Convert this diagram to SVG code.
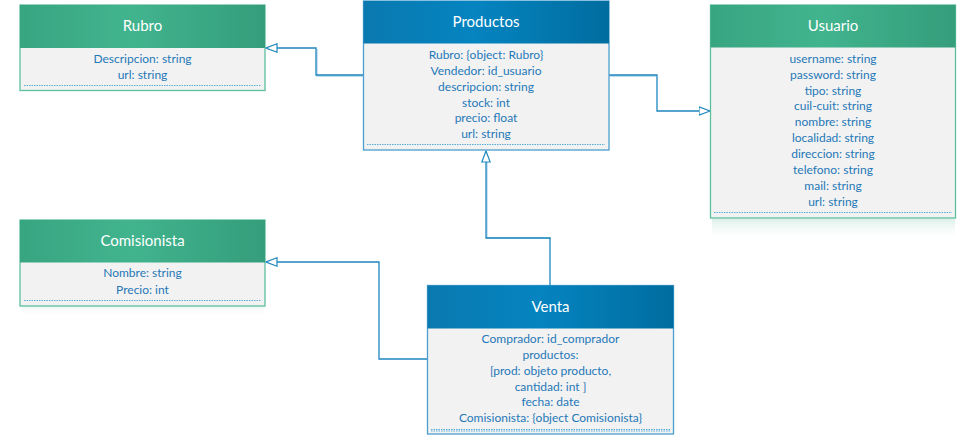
<svg xmlns="http://www.w3.org/2000/svg" width="976" height="436" viewBox="0 0 976 436">
<defs>
<linearGradient id="gG" x1="0" y1="0" x2="1" y2="0">
<stop offset="0" stop-color="#38a581"/><stop offset="0.45" stop-color="#41b48e"/><stop offset="1" stop-color="#359d7b"/>
</linearGradient>
<linearGradient id="gB" x1="0" y1="0" x2="1" y2="0">
<stop offset="0" stop-color="#0a79b0"/><stop offset="0.45" stop-color="#0584c0"/><stop offset="1" stop-color="#006d9f"/>
</linearGradient>
<linearGradient id="refl" x1="0" y1="0" x2="0" y2="1">
<stop offset="0" stop-color="#d8eee6" stop-opacity="0.9"/><stop offset="1" stop-color="#ffffff" stop-opacity="0"/>
</linearGradient>
<marker id="tri" viewBox="0 0 12 10" refX="12" refY="5" markerWidth="12" markerHeight="10" markerUnits="userSpaceOnUse" orient="auto">
<path d="M0.5,0.8 L11.5,5 L0.5,9.2 Z" fill="#ffffff" stroke="#1f86bf" stroke-width="1.2"/>
</marker>
</defs>
<style>
.body{fill:#f2f2f2}
.gb{stroke:#5dbf9d;stroke-width:1.3}
.bb{stroke:#4a9fcf;stroke-width:1.3}
.title{font-family:Lato,"Open Sans",sans-serif;font-size:15px;fill:#ffffff;text-anchor:middle}
.attr{font-family:Lato,"Open Sans",sans-serif;font-size:12px;fill:#1f78b8;text-anchor:middle}
.dot{stroke:#5aaedc;stroke-width:1;stroke-dasharray:1.5 1}
.conn{fill:none;stroke:#1f86bf;stroke-width:1.3}
.connsh{fill:none;stroke:#a9d3ea;stroke-width:1.3}
</style>
<rect x="712" y="219" width="243" height="22" fill="url(#refl)"/>
<rect x="22" y="306" width="242" height="12" fill="url(#refl)" opacity="0.5"/>
<g id="connectors">
<polyline class="connsh" points="364,76 317,76 317,49"/>
<polyline class="conn" points="363,75 316,75 316,48 265.5,48" marker-end="url(#tri)"/>
<polyline class="connsh" points="610,76 656,76"/>
<polyline class="conn" points="609,75 657,75 657,111 710.5,111" marker-end="url(#tri)"/>
<polyline class="connsh" points="551,238 487,238 487,162"/>
<polyline class="conn" points="550,285 550,238 486,238 486,150.5" marker-end="url(#tri)"/>
<polyline class="conn" points="427,359 379,359 379,262 265.5,262" marker-end="url(#tri)"/>
</g>
<g id="Rubro">
<rect class="body gb" x="20" y="5" width="245" height="85.5"/>
<rect x="20" y="5" width="245" height="43" fill="url(#gG)"/>
<text class="title" x="142.5" y="31">Rubro</text>
<text class="attr" x="142.5" y="63">Descripcion: string</text>
<text class="attr" x="142.5" y="79">url: string</text>
<line class="dot" x1="24" y1="85.5" x2="261" y2="85.5"/>
</g>
<g id="Productos">
<rect class="body bb" x="363.5" y="1" width="245.5" height="149"/>
<rect x="363.5" y="1" width="245.5" height="42.5" fill="url(#gB)"/>
<text class="title" x="486" y="27">Productos</text>
<text class="attr" x="486" y="59">Rubro: {object: Rubro}</text>
<text class="attr" x="486" y="75">Vendedor: id_usuario</text>
<text class="attr" x="486" y="91">descripcion: string</text>
<text class="attr" x="486" y="107">stock: int</text>
<text class="attr" x="486" y="122">precio: float</text>
<text class="attr" x="486" y="138">url: string</text>
<line class="dot" x1="367" y1="144.5" x2="605" y2="144.5"/>
</g>
<g id="Usuario">
<rect class="body gb" x="710.5" y="5" width="245" height="213"/>
<rect x="710.5" y="5" width="245" height="42.5" fill="url(#gG)"/>
<text class="title" x="833" y="31">Usuario</text>
<text class="attr" x="833" y="63">username: string</text>
<text class="attr" x="833" y="79">password: string</text>
<text class="attr" x="833" y="95">tipo: string</text>
<text class="attr" x="833" y="110">cuil-cuit: string</text>
<text class="attr" x="833" y="126">nombre: string</text>
<text class="attr" x="833" y="142">localidad: string</text>
<text class="attr" x="833" y="158">direccion: string</text>
<text class="attr" x="833" y="174">telefono: string</text>
<text class="attr" x="833" y="190">mail: string</text>
<text class="attr" x="833" y="206">url: string</text>
<line class="dot" x1="714" y1="212.5" x2="952" y2="212.5"/>
</g>
<g id="Comisionista">
<rect class="body gb" x="20" y="220" width="245" height="86"/>
<rect x="20" y="220" width="245" height="42.5" fill="url(#gG)"/>
<text class="title" x="142.5" y="246">Comisionista</text>
<text class="attr" x="142.5" y="277">Nombre: string</text>
<text class="attr" x="142.5" y="294">Precio: int</text>
<line class="dot" x1="24" y1="300.5" x2="261" y2="300.5"/>
</g>
<g id="Venta">
<rect class="body bb" x="427.5" y="285.5" width="246" height="148.5"/>
<rect x="427.5" y="285.5" width="246" height="43" fill="url(#gB)"/>
<text class="title" x="550.5" y="312">Venta</text>
<text class="attr" x="550.5" y="343">Comprador: id_comprador</text>
<text class="attr" x="550.5" y="359">productos:</text>
<text class="attr" x="550.5" y="375">[prod: objeto producto,</text>
<text class="attr" x="550.5" y="391">cantidad: int ]</text>
<text class="attr" x="550.5" y="406">fecha: date</text>
<text class="attr" x="550.5" y="422">Comisionista: {object Comisionista}</text>
<line class="dot" x1="431" y1="429.5" x2="670" y2="429.5"/>
<line class="dot" x1="431" y1="431" x2="670" y2="431"/>
</g>
</svg>
